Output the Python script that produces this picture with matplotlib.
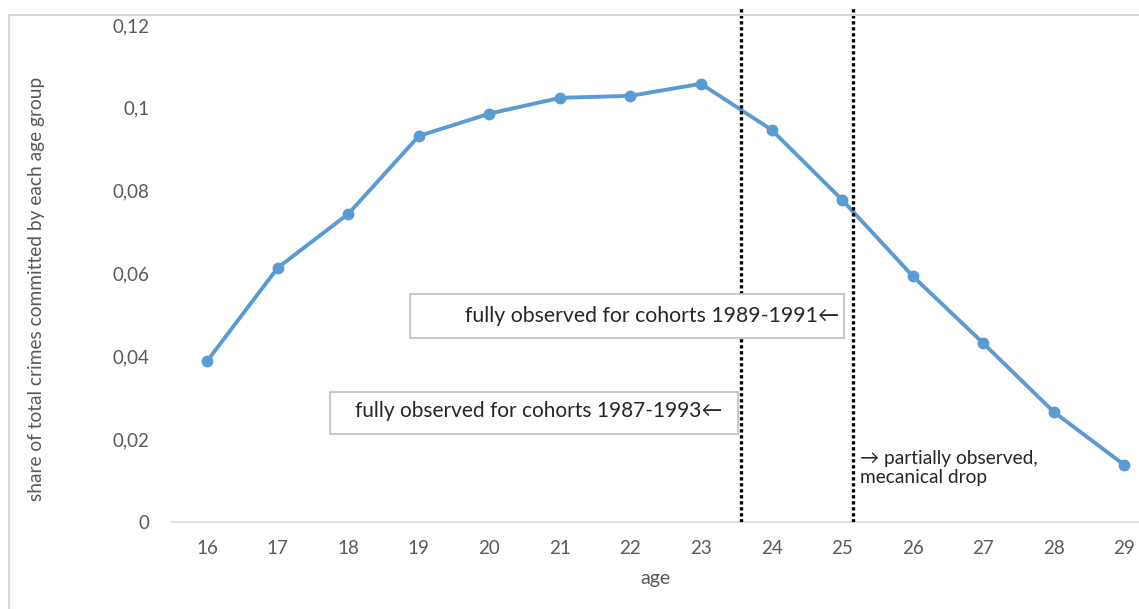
import matplotlib
matplotlib.use("Agg")
import matplotlib.pyplot as plt
from matplotlib.patches import Rectangle

ages = [16, 17, 18, 19, 20, 21, 22, 23, 24, 25, 26, 27, 28, 29]
share = [0.0389, 0.0614, 0.0744, 0.0932, 0.0986, 0.1024, 0.1029,
         0.1058, 0.0947, 0.0778, 0.0594, 0.0432, 0.0266, 0.0138]
yticks = [0, 0.02, 0.04, 0.06, 0.08, 0.1, 0.12]
ytick_labels = ["0", "0,02", "0,04", "0,06", "0,08", "0,1", "0,12"]
cutoffs = [7.57, 9.15]  # category positions of the dotted lines

plt.rcParams['font.family'] = ['Lato', 'DejaVu Sans']

fig = plt.figure(figsize=(11.39, 6.09), dpi=100)
ax = fig.add_axes([172 / 1139, 1 - 522 / 609, 1 - 172 / 1139, (522 - 8) / 609])

# outer chart frame
fig.patches.append(Rectangle((9 / 1139, 1 - 15 / 609 - 700 / 609), 1.2, 700 / 609,
                             transform=fig.transFigure, fill=False,
                             edgecolor='#d9d9d9', linewidth=1.5))

pos = list(range(len(ages)))
ax.plot(pos, share, color='#5b9bd5', linewidth=2.8, marker='o', markersize=7.5,
        zorder=3)

for c in cutoffs:
    ax.axvline(c, color='black', linestyle=(0, (1, 0.8)), linewidth=2.4, zorder=4)

ax.set_xlim(-0.5, 13.21)
ax.set_ylim(0, 0.1241)
ax.set_xticks(pos)
ax.set_xticklabels([str(a) for a in ages])
ax.set_yticks(yticks)
ax.set_yticklabels(ytick_labels)
ax.tick_params(length=0, colors='#595959', labelsize=13.5)
ax.tick_params(axis='x', pad=13)
ax.tick_params(axis='y', pad=16)
for s in ['top', 'right', 'left']:
    ax.spines[s].set_visible(False)
ax.spines['bottom'].set_color('#d9d9d9')
ax.spines['bottom'].set_linewidth(1.2)

ax.set_xlabel('age', color='#595959', fontsize=14, labelpad=9)
ax.set_ylabel('share of total crimes committed by each age group',
              color='#595959', fontsize=13.8)
ax.yaxis.set_label_coords(-(172 - 45) / 967, (522 - 289) / 514)

# text boxes (white fill hides the dotted line behind them)
ax.add_patch(Rectangle((2.88, 0.0444), 9.03 - 2.88, 0.0551 - 0.0444,
                       facecolor='white', edgecolor='#bfbfbf', linewidth=1.2,
                       zorder=5))
ax.text(3.66, 0.0498, 'fully observed for cohorts 1989-1991\u2190',
        fontsize=15.3, color='#262626', va='center', ha='left', zorder=6)
ax.add_patch(Rectangle((1.745, 0.02126), 7.52 - 1.745, 0.0314 - 0.02126,
                       facecolor='white', edgecolor='#bfbfbf', linewidth=1.2,
                       zorder=5))
ax.text(2.10, 0.0268, 'fully observed for cohorts 1987-1993\u2190',
        fontsize=15, color='#262626', va='center', ha='left', zorder=6)
ax.text(9.26, 0.0173, '\u2192 partially observed,\nmecanical drop',
        fontsize=13.8, color='#262626', va='top', ha='left',
        linespacing=1.15, zorder=6)

fig.savefig('out.png', dpi=100)
